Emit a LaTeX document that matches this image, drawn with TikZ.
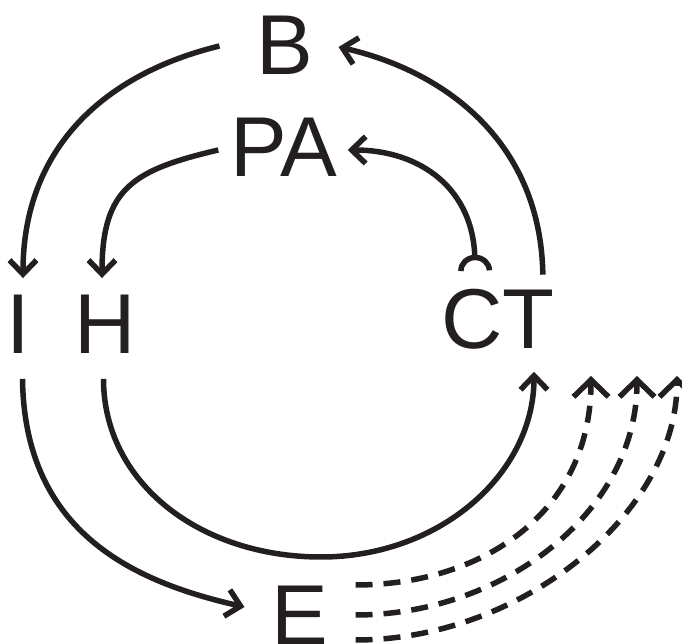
\documentclass[tikz,border=0pt]{standalone}
\usepackage{fontspec}
\setmainfont{Liberation Sans}
\usepackage{xcolor}
\usepackage{tikz}
\usetikzlibrary{arrows.meta,calc}
\definecolor{cyInk}{RGB}{35,31,32}

\begin{document}
\begin{tikzpicture}[
  x=1pt, y=1pt,
  lbl/.style={font=\fontsize{85}{90}\selectfont, text=cyInk, inner sep=0pt},
  ar/.style={-{Straight Barb[length=14pt, width=27pt]}, draw=cyInk, line width=5.5pt},
  inh/.style={{Arc Barb[reversed, arc=180, length=16pt, width=34pt]}-{Straight Barb[length=14pt, width=27pt]}, draw=cyInk, line width=5.5pt},
  fb/.style={-{Straight Barb[length=17pt, width=35pt]}, draw=cyInk, line width=5.5pt, dash pattern=on 17pt off 11pt}
]
\useasboundingbox (0,0) rectangle (682,644);

\node[lbl] (B) at (285,599) {B};
\node[lbl] (PA) at (284,497) {PA};
\node[lbl] (I) at (18,319.5) {I};
\node[lbl] (H) at (105,319.5) {H};
\node[lbl] (CT) at (498,325) {CT};
\node[lbl] (E) at (300,28.5) {E};

% outer ring
\draw[ar] ($(B.west)+(-37,-1)$) .. controls +(-115,-28) and +(0,130) .. ($(I.north)+(5,17)$);
\draw[ar] ($(I.south)+(4.5,-25)$) .. controls +(2,-154) and +(-110,25) .. ($(E.west)+(-27,8.5)$);
\draw[ar] ($(CT.north east)+(-12,14)$) .. controls +(-2,130) and +(110,-25) .. ($(B.east)+(25,-2)$);

% inner ring
\draw[ar] ($(PA.west)+(-12,-3)$) .. controls +(-85,-20) and +(0,90) .. ($(H.north)+(-3,17)$);
\draw[inh] ($(CT.north west)+(34,18)$) .. controls +(-2,80) and +(75,0) .. ($(PA.east)+(10,-3)$);
\draw[ar] ($(H.south)+(-1.5,-25)$) .. controls +(0,-104) and (200,87) .. (321,87)
  .. controls (440,87) and +(0,-102) .. ($(CT.south)+(36,-22.5)$);

% feedback from E
\coordinate (t1) at (591,268);
\coordinate (t2) at (637,268);
\coordinate (t3) at (677,268);
\foreach \dy/\cx/\t in {30.5/125/t1, 0.5/145/t2, -24.5/165/t3}
  \draw[fb] ($(E.east)+(27,\dy)$) .. controls +(\cx,0) and +(0,-138) .. (\t);

\end{tikzpicture}
\end{document}
